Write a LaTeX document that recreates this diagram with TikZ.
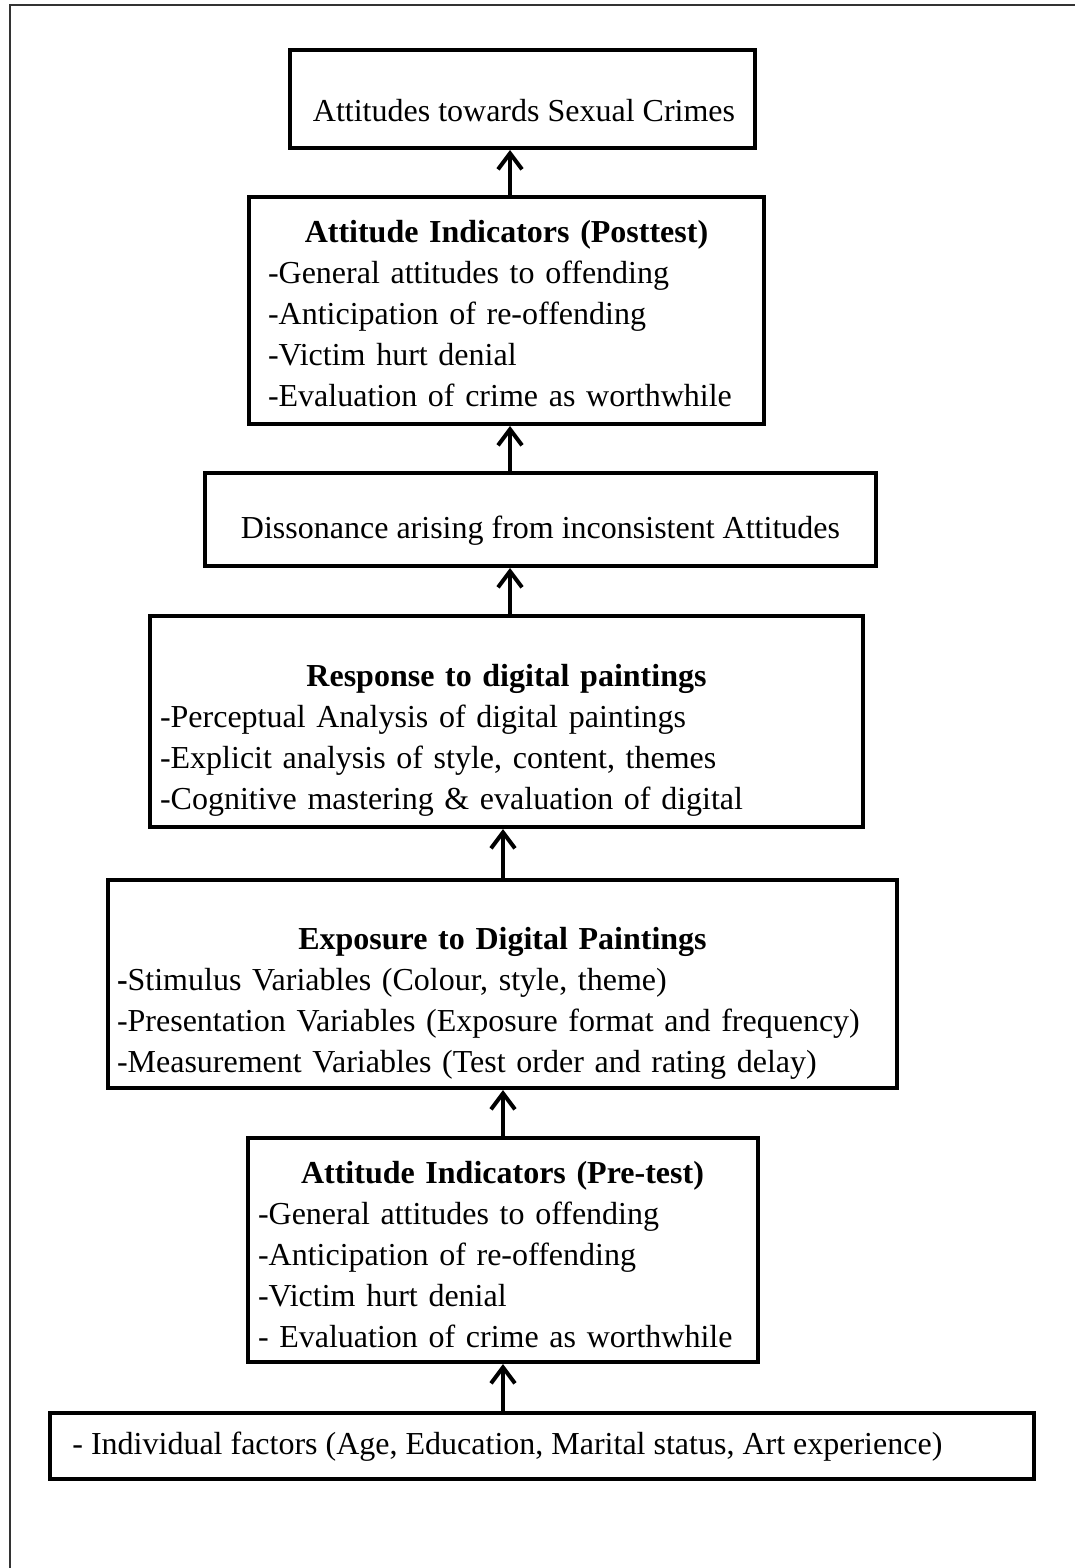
\documentclass[tikz,border=0pt]{standalone}
\usepackage{fontspec}
\setmainfont{Liberation Serif}
\usetikzlibrary{arrows.meta}
\begin{document}
\begin{tikzpicture}[x=.5pt,y=-.5pt,
  box/.style={draw,line width=2pt,inner sep=0pt},
  txt/.style={inner sep=0pt,align=left,font=\fontsize{16}{20.5}\selectfont},
  arr/.style={line width=2pt,-{Straight Barb[length=8pt,width=12pt]}}]
\useasboundingbox (0,0) rectangle (1075,1568);
\draw[line width=.8pt,black!80](10,1568)--(10,5)--(1075,5);
% boxes
\node[box,minimum width=232.5pt,minimum height=49pt](crimes) at(522.5,99){};
\node[box,minimum width=257.5pt,minimum height=113.5pt](post) at(506.5,310.5){};
\node[box,minimum width=335.5pt,minimum height=46.5pt](diss) at(540.5,519.5){};
\node[box,minimum width=356.5pt,minimum height=105.5pt](resp) at(506.5,721.5){};
\node[box,minimum width=394.5pt,minimum height=104pt](expo) at(502.5,984){};
\node[box,minimum width=255pt,minimum height=112pt](pre) at(502.5,1250){};
\node[box,minimum width=492pt,minimum height=33pt](indiv) at(542,1446){};
% texts
\node[txt] at(524,111){Attitudes towards Sexual Crimes};
\node[txt,anchor=north,text width=238.5pt] at(506.5,220){{\centering\bfseries Attitude Indicators (Posttest)\par}
-General attitudes to offending\\-Anticipation of re-offending\\-Victim hurt denial\\-Evaluation of crime as worthwhile};
\node[txt] at(540.5,531){Dissonance arising from inconsistent Attitudes};
\node[txt,anchor=north,text width=346.5pt] at(506.5,664){{\centering\bfseries Response to digital paintings\par}
-Perceptual Analysis of digital paintings\\-Explicit analysis of style, content, themes\\-Cognitive mastering \& evaluation of digital};
\node[txt,anchor=north,text width=385.5pt] at(502.5,927){{\centering\bfseries Exposure to Digital Paintings\par}
\textbf{-}Stimulus Variables (Colour, style, theme)\\-Presentation Variables (Exposure format and frequency)\\-Measurement Variables (Test order and rating delay)};
\node[txt,anchor=north,text width=244.5pt] at(502.5,1161){{\centering\bfseries Attitude Indicators (Pre-test)\par}
-General attitudes to offending\\-Anticipation of re-offending\\-Victim hurt denial\\- Evaluation of crime as worthwhile};
\node[txt,anchor=west] at(72,1447){- Individual factors (Age, Education, Marital status, Art experience)};
% arrows
\draw[arr](post.north-|510,0)--(crimes.south-|510,0);
\draw[arr](diss.north-|510,0)--(post.south-|510,0);
\draw[arr](resp.north-|510,0)--(diss.south-|510,0);
\draw[arr](expo.north-|503,0)--(resp.south-|503,0);
\draw[arr](pre.north-|503,0)--(expo.south-|503,0);
\draw[arr](indiv.north-|503,0)--(pre.south-|503,0);
\end{tikzpicture}
\end{document}
